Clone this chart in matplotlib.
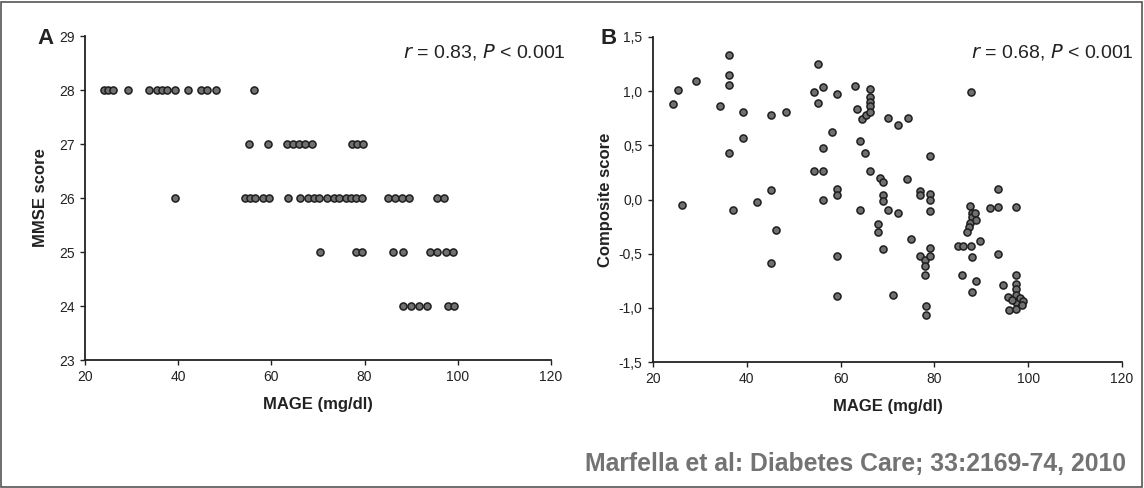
import matplotlib
matplotlib.use("Agg")
import matplotlib.pyplot as plt
from matplotlib.patches import Rectangle

plt.rcParams['font.family'] = ['Liberation Sans', 'DejaVu Sans']

# ---- Panel A data: MAGE vs MMSE score ----
mage_A = [24.1, 24.9, 26.0, 29.2, 33.7, 35.5, 36.5, 37.6, 39.3, 42.1, 44.9, 46.2, 48.1, 56.3,
          55.2, 59.3, 63.3, 64.6, 65.9, 67.2, 68.7, 77.3, 78.3, 79.7,
          39.3, 54.3, 55.4, 56.5, 58.2, 59.5, 63.6, 66.1, 67.9, 69.1, 70.2, 71.9, 73.4, 74.5,
          76.0, 77.1, 78.2, 79.4, 85.0, 86.5, 88.0, 89.5, 95.5, 97.0,
          70.4, 78.2, 79.4, 86.1, 88.2, 94.0, 95.5, 97.5, 99.0,
          88.2, 90.0, 91.7, 93.4, 97.9, 99.2]
mmse_A = [28] * 14 + [27] * 10 + [26] * 24 + [25] * 9 + [24] * 6

# ---- Panel B data: MAGE vs Composite score ----
mage_B = [36.2, 36.2, 36.2, 29.2, 25.3, 24.3, 34.2, 39.2, 45.2, 48.3, 39.2, 36.1,
          55.2, 54.3, 56.2, 59.2, 55.2, 63.1, 66.3,
          63.5, 64.5, 65.5, 66.2, 66.2, 66.2, 66.2,
          58.2, 56.2, 64.1, 65.2, 54.3, 56.2, 66.3,
          45.2, 42.2, 37.1, 26.2, 59.2, 59.2, 56.2, 64.1, 46.2, 45.2, 59.2, 59.2,
          70.2, 72.2, 74.3, 87.8, 79.1, 68.5, 69.0, 74.1, 69.0, 69.0, 76.9, 76.9, 79.1, 79.1,
          70.2, 72.2, 79.1, 68.0, 68.0, 69.1, 75.0, 79.1, 76.9, 78.0, 78.0, 79.1, 78.0, 71.2,
          78.2, 78.2,
          93.6, 91.9, 93.6, 97.5, 87.6, 88.0, 88.0, 87.6, 87.3, 86.9, 88.7, 88.9, 85.1, 86.2,
          87.8, 89.7, 88.0, 93.6, 85.8, 88.9, 88.0, 97.5, 97.5, 97.5, 97.5, 97.5, 94.7, 95.7,
          96.5, 98.3, 98.9, 95.8, 97.5, 98.6]
comp_B = [1.33, 1.15, 1.06, 1.09, 1.01, 0.88, 0.86, 0.81, 0.78, 0.81, 0.57, 0.43,
          1.25, 0.99, 1.04, 0.97, 0.89, 1.05, 1.02,
          0.84, 0.74, 0.78, 0.95, 0.90, 0.86, 0.81,
          0.62, 0.48, 0.54, 0.43, 0.26, 0.26, 0.26,
          0.09, -0.02, -0.10, -0.05, 0.10, 0.04, 0.00, -0.10, -0.28, -0.59, -0.52, -0.89,
          0.75, 0.69, 0.75, 0.99, 0.40, 0.20, 0.16, 0.19, 0.04, -0.01, 0.08, 0.04, 0.05, 0.00,
          -0.10, -0.12, -0.11, -0.23, -0.30, -0.46, -0.36, -0.45, -0.52, -0.56, -0.61, -0.52,
          -0.70, -0.88, -0.98, -1.07,
          0.10, -0.08, -0.07, -0.07, -0.06, -0.12, -0.16, -0.22, -0.25, -0.30, -0.12, -0.19,
          -0.43, -0.43, -0.43, -0.38, -0.53, -0.50, -0.70, -0.75, -0.85, -0.70, -0.78, -0.83,
          -0.88, -0.95, -0.79, -0.90, -0.93, -0.91, -0.94, -1.02, -1.01, -0.97]

x_ticks = [20, 40, 60, 80, 100, 120]
yA_ticks = [23, 24, 25, 26, 27, 28, 29]
yB_ticks = [-1.5, -1.0, -0.5, 0.0, 0.5, 1.0, 1.5]
yB_labels = ['-1,5', '-1,0', '-0,5', '0,0', '0,5', '1,0', '1,5']

W, H = 1144, 488
fig = plt.figure(figsize=(W / 100, H / 100), dpi=100)
fig.patch.set_facecolor('white')

axA = fig.add_axes([85 / W, 1 - 360 / H, 466 / W, 324 / H])
axB = fig.add_axes([653 / W, 1 - 362 / H, 469 / W, 325 / H])

mk = dict(s=26, facecolor='#707070', edgecolor='#1e1e1e', linewidths=1.1, zorder=3,
          clip_on=False)
axA.scatter(mage_A, mmse_A, **mk)
axB.scatter(mage_B, comp_B, **mk)

for ax in (axA, axB):
    for s in ('top', 'right'):
        ax.spines[s].set_visible(False)
    for s in ('left', 'bottom'):
        ax.spines[s].set_linewidth(1.3)
        ax.spines[s].set_color('#222222')
    ax.set_xlim(20, 120)
    ax.set_xticks(x_ticks)
    ax.tick_params(direction='out', length=3.5, width=1.0, labelsize=10,
                   colors='#222222', pad=4)
    ax.set_xlabel('MAGE (mg/dl)', fontsize=12, fontweight='bold', labelpad=9,
                  color='#222222')

axA.set_ylim(23, 29)
axA.set_yticks(yA_ticks)
axA.set_ylabel('MMSE score', fontsize=12, fontweight='bold', labelpad=8,
               color='#222222')

axB.set_ylim(-1.5, 1.5)
axB.set_yticks(yB_ticks)
axB.set_yticklabels(yB_labels)
axB.set_ylabel('Composite score', fontsize=12, fontweight='bold', labelpad=4,
               color='#222222')

# panel letters
fig.text(37 / W, 1 - 39 / H, 'A', fontsize=16, fontweight='bold', va='center', ha='left',
         color='#222222')
fig.text(600 / W, 1 - 39 / H, 'B', fontsize=16, fontweight='bold', va='center', ha='left',
         color='#222222')

# stats
fig.text(566 / W, 1 - 52 / H, r'$r$' + ' = 0.83, ' + r'$P$' + ' < 0.001', fontsize=14,
         ha='right', va='center', color='#222222')
fig.text(1134 / W, 1 - 52 / H, r'$r$' + ' = 0.68, ' + r'$P$' + ' < 0.001', fontsize=14,
         ha='right', va='center', color='#222222')

# citation
fig.text(1126 / W, 1 - 464 / H, 'Marfella et al: Diabetes Care; 33:2169-74, 2010',
         fontsize=17.8, fontweight='bold', ha='right', va='center', color='#737373')

# outer frame
fig.patches.append(Rectangle((1 / W, 1 / H), 1 - 3 / W, 1 - 3 / H, transform=fig.transFigure,
                             fill=False, edgecolor='#555555', linewidth=1.2))

fig.savefig('out.png', dpi=100)
